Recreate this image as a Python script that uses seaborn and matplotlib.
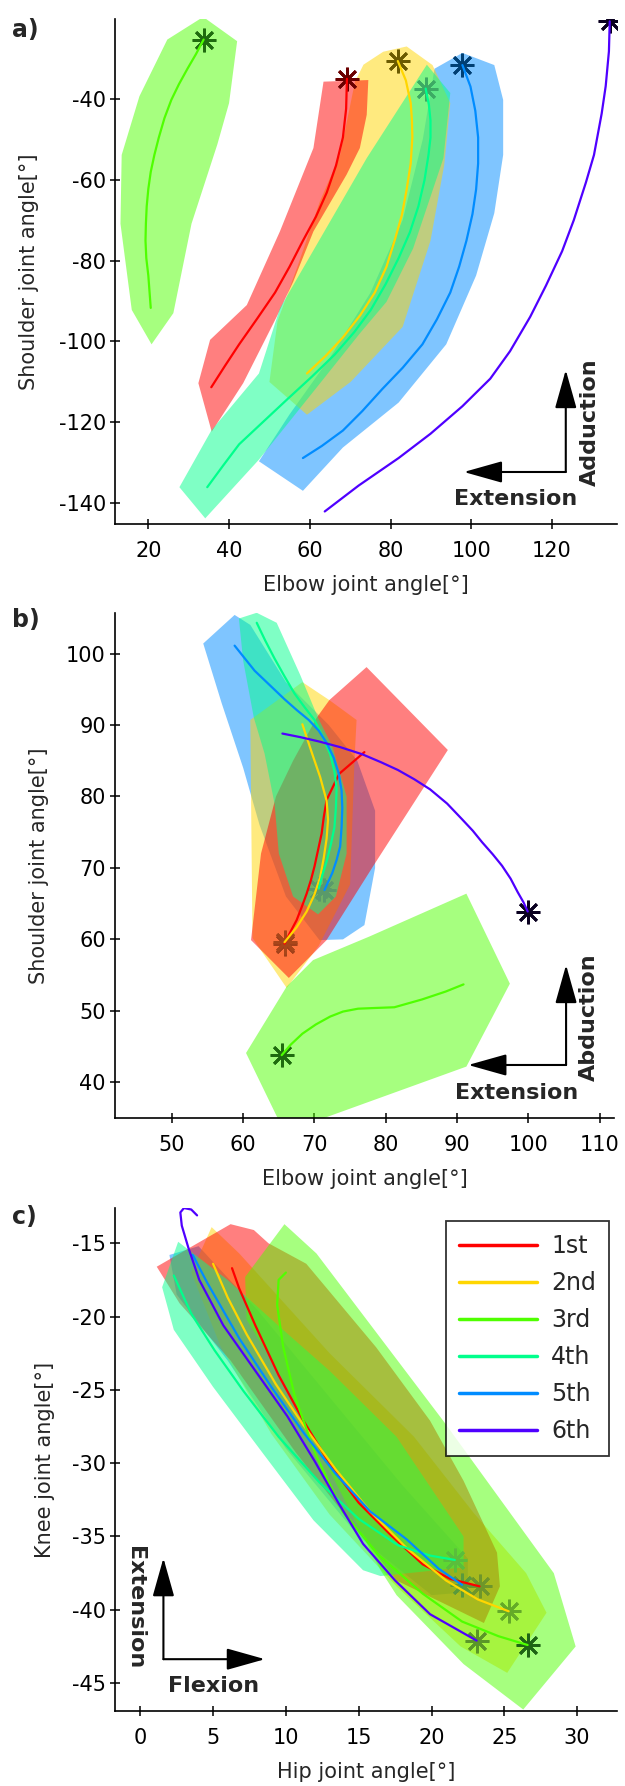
import matplotlib
matplotlib.use("Agg")
import matplotlib.pyplot as plt
import seaborn as sns
import numpy as np

# ---------------- data ----------------
labels = ["1st", "2nd", "3rd", "4th", "5th", "6th"]
colors = [(1, 0, 0), (1, 0.84, 0), (0.31, 1, 0), (0, 1, 0.55), (0, 0.55, 1), (0.31, 0, 1)]

# Panel a: elbow (x) vs shoulder (y); last point of each curve = star
a_x = [
    [35.6, 39.0, 42.5, 47.0, 51.4, 55.0, 58.3, 61.5, 64.2, 66.5, 68.2, 69.0, 69.2],
    [59.3, 64.0, 68.2, 72.5, 76.1, 79.0, 81.0, 82.8, 84.0, 85.0, 85.4, 85.3, 85.0, 83.8, 81.8],
    [20.6, 20.3, 20.0, 19.5, 19.3, 19.4, 19.6, 20.0, 20.6, 21.5, 22.6, 24.0, 25.7, 27.6, 29.7, 31.8, 33.7],
    [34.6, 38.5, 42.5, 48.5, 54.4, 60.5, 66.2, 71.0, 75.1, 78.8, 82.0, 84.8, 86.9, 88.4, 89.4, 89.9, 89.9, 89.5, 88.7],
    [58.3, 63.0, 68.2, 73.0, 78.0, 83.0, 87.9, 91.5, 94.8, 97.0, 98.8, 100.3, 101.2, 101.7, 101.7, 101.0, 99.8, 97.8],
    [63.7, 72.1, 82.0, 89.9, 97.8, 104.7, 109.6, 114.6, 118.5, 122.5, 125.4, 128.4, 130.4, 132.3, 133.3, 134.1, 134.3],
]
a_y = [
    [-111.3, -106.0, -100.7, -94.3, -87.9, -81.5, -75.1, -69.2, -63.2, -56.5, -49.6, -42.5, -35.1],
    [-107.9, -103.5, -99.0, -93.5, -87.9, -81.5, -75.1, -68.8, -62.4, -56.0, -49.6, -45.3, -41.1, -35.5, -30.7],
    [-91.7, -87.7, -83.7, -79.4, -75.1, -70.9, -66.6, -62.3, -58.1, -53.9, -49.6, -44.8, -40.3, -36.4, -32.6, -29.0, -25.4],
    [-136.0, -130.7, -125.4, -119.8, -114.3, -108.7, -103.2, -97.7, -92.2, -85.8, -79.4, -73.0, -66.6, -60.2, -53.9, -49.6, -45.4, -41.5, -37.5],
    [-128.8, -125.8, -122.0, -117.2, -111.7, -106.5, -100.7, -94.5, -87.9, -81.5, -75.1, -68.5, -62.4, -56.0, -49.6, -43.0, -37.0, -31.7],
    [-142.0, -135.6, -128.8, -122.8, -116.0, -109.2, -102.4, -93.9, -86.2, -77.7, -70.0, -60.7, -53.9, -43.7, -36.9, -28.3, -20.9],
]
a_hull = {
    4: [(90.9, -32.6), (97.8, -28.7), (105.7, -31.7), (107.9, -40.3), (107.9, -53.9), (105.7, -68.3),
        (101.2, -83.7), (93.8, -100.7), (82.0, -115.1), (68.2, -126.2), (58.3, -136.9), (47.4, -129.6),
        (55.0, -118.0), (65.0, -104.0), (75.0, -88.0), (83.0, -70.0), (88.0, -50.0)],
    1: [(71.2, -35.8), (73.3, -31.6), (78.2, -28.4), (84.0, -27.1), (90.4, -31.7), (94.8, -41.1),
        (93.3, -56.4), (89.9, -75.1), (83.0, -96.4), (70.1, -110.0), (59.3, -118.1), (50.0, -110.0),
        (52.0, -95.0), (56.8, -81.9), (62.5, -65.4), (67.5, -53.9)],
    0: [(63.4, -35.8), (74.5, -35.4), (74.1, -44.0), (72.4, -52.2), (69.1, -58.8), (60.9, -72.8),
        (55.9, -85.2), (51.8, -93.9), (43.5, -110.3), (35.7, -122.3), (32.4, -110.3), (35.3, -99.6),
        (44.4, -91.0), (52.6, -72.8), (60.9, -52.2)],
    3: [(89.0, -31.6), (94.8, -38.6), (93.1, -54.7), (85.6, -77.0), (79.0, -90.2), (72.4, -98.0),
        (62.0, -111.0), (47.4, -129.2), (34.1, -143.7), (27.7, -136.0), (35.6, -122.0), (47.4, -107.9),
        (52.6, -91.8), (74.1, -54.7)],
    2: [(24.7, -25.4), (33.6, -19.8), (42.0, -25.8), (40.0, -41.1), (37.1, -51.3), (30.7, -70.9),
        (26.2, -93.0), (20.8, -100.7), (15.9, -92.2), (13.1, -70.9), (13.4, -53.9), (17.8, -39.4)],
}
a_order = [4, 1, 0, 3, 2]
a_star = ['#6b0000', '#6b5a00', '#1f6b0f', '#3caa64', '#003f73', '#0a0020']

# Panel b: elbow (x) vs shoulder (y)
b_x = [
    [77.0, 73.5, 72.8, 71.7, 71.3, 71.0, 70.5, 70.0, 69.5, 68.9, 68.2, 67.5, 66.6, 65.8],
    [68.3, 69.0, 69.7, 70.8, 71.7, 71.9, 71.7, 71.3, 70.8, 70.0, 68.9, 67.5, 65.8],
    [90.9, 88.4, 85.1, 81.2, 78.5, 76.1, 74.0, 72.2, 70.2, 68.3, 66.7, 65.4],
    [61.9, 63.1, 64.4, 65.8, 67.2, 68.6, 70.0, 71.2, 72.2, 72.8, 73.1, 73.0, 72.8, 72.3, 71.7, 71.1, 70.6],
    [58.8, 61.6, 63.7, 65.8, 67.5, 69.2, 70.6, 71.7, 72.7, 73.4, 73.8, 73.9, 73.8, 73.6, 73.1, 72.5, 71.9, 71.4],
    [65.5, 68.0, 70.6, 73.6, 76.7, 79.3, 81.7, 84.0, 86.2, 88.6, 90.7, 92.2, 93.5, 95.0, 96.3, 97.5, 98.5, 99.3, 99.9],
]
b_y = [
    [86.2, 83.2, 81.8, 79.5, 77.1, 74.8, 72.5, 70.2, 68.3, 66.4, 64.5, 62.7, 61.0, 59.4],
    [90.1, 88.0, 85.9, 82.7, 79.4, 76.8, 74.1, 71.4, 68.7, 66.3, 63.9, 61.7, 59.6],
    [53.7, 52.7, 51.6, 50.5, 50.4, 50.3, 49.9, 49.2, 48.1, 46.8, 45.3, 43.8],
    [104.3, 101.8, 99.3, 96.8, 94.4, 92.5, 90.7, 88.3, 85.9, 83.5, 81.1, 78.4, 75.7, 73.3, 70.9, 69.0, 67.1],
    [101.1, 97.6, 95.6, 93.6, 92.1, 90.7, 89.2, 87.5, 85.4, 83.2, 80.8, 78.4, 75.7, 73.0, 71.1, 69.3, 68.0, 66.9],
    [88.8, 88.3, 87.7, 86.9, 85.9, 84.8, 83.7, 82.4, 81.0, 79.0, 76.8, 75.2, 73.6, 71.9, 70.3, 68.5, 66.6, 65.2, 63.9],
]
b_hull = {
    4: [(54.4, 101.4), (58.8, 105.4), (61.0, 104.0), (66.0, 96.0), (72.0, 90.0), (76.0, 85.0),
        (78.5, 78.0), (78.5, 70.0), (77.0, 62.0), (74.0, 60.0), (70.7, 59.9), (66.0, 66.0),
        (62.3, 76.0), (60.0, 84.0), (57.0, 93.0)],
    1: [(61.0, 90.7), (68.3, 96.0), (72.2, 93.4), (75.9, 90.7), (75.6, 84.8), (75.0, 67.7),
        (70.6, 59.1), (66.1, 53.2), (61.3, 60.2)],
    0: [(77.3, 98.1), (88.7, 86.5), (78.2, 70.2), (71.7, 59.9), (66.4, 54.6), (61.1, 59.9),
        (62.5, 72.0), (64.6, 80.0), (67.0, 85.0), (70.3, 91.0), (72.1, 93.5)],
    3: [(59.4, 104.9), (61.9, 105.7), (64.7, 104.3), (68.0, 97.0), (70.5, 91.0), (72.5, 87.0),
        (74.5, 80.0), (74.5, 72.0), (73.0, 66.0), (70.5, 63.5), (67.0, 66.0), (65.0, 72.0),
        (64.4, 79.0), (63.0, 86.0), (61.5, 91.0), (60.0, 99.0)],
    2: [(60.4, 44.1), (66.1, 53.4), (69.8, 57.1), (77.7, 60.4), (91.3, 66.4), (97.4, 53.8),
        (91.3, 42.2), (65.8, 33.0)],
}
b_order = [4, 1, 0, 3, 2]
b_star = ['#a0401a', '#a8461a', '#1f6b0f', '#5a9a6a', '#5a9a6a', '#0a0020']

# Panel c: hip (x) vs knee (y)
c_x = [
    [6.3, 6.8, 7.9, 9.5, 11.2, 13.1, 15.0, 17.2, 19.4, 21.3, 23.3],
    [5.0, 6.0, 7.3, 9.3, 11.2, 13.4, 15.8, 18.3, 21.0, 23.2, 25.3],
    [10.0, 9.5, 9.4, 9.8, 10.6, 12.0, 13.9, 16.4, 19.4, 22.1, 24.6, 26.6],
    [2.3, 3.5, 5.1, 7.1, 9.5, 12.3, 15.0, 17.7, 19.9, 21.6],
    [3.6, 4.6, 6.8, 9.0, 11.2, 13.4, 15.8, 18.3, 20.5, 22.1],
    [3.9, 3.5, 3.0, 2.75, 2.85, 3.3, 4.05, 5.7, 7.9, 10.1, 12.0, 13.6, 15.3, 17.5, 19.9, 23.1],
]
c_y = [
    [-16.7, -18.1, -20.6, -24.0, -27.1, -30.2, -32.7, -34.9, -36.9, -37.9, -38.4],
    [-16.4, -18.7, -21.2, -24.6, -27.4, -30.4, -33.3, -35.8, -38.0, -39.3, -40.1],
    [-17.0, -17.5, -19.2, -22.0, -25.4, -29.3, -33.3, -36.3, -38.9, -40.8, -41.8, -42.4],
    [-17.2, -19.8, -22.3, -25.1, -28.2, -31.3, -33.8, -35.6, -36.3, -36.6],
    [-15.8, -17.7, -21.5, -24.8, -27.9, -30.7, -33.3, -35.2, -37.2, -38.3],
    [-13.1, -12.7, -12.6, -12.9, -13.8, -15.3, -17.5, -20.6, -23.7, -26.8, -29.9, -32.7, -35.5, -38.0, -40.3, -42.1],
]
c_hull = {
    4: [(2.0, -15.8), (4.0, -15.2), (8.0, -19.5), (13.0, -25.5), (18.0, -31.5), (22.5, -36.5),
        (22.5, -38.8), (20.0, -39.0), (15.0, -35.0), (10.0, -29.0), (6.0, -23.0), (2.5, -18.5)],
    1: [(4.9, -13.9), (6.8, -15.7), (13.0, -22.5), (18.8, -28.2), (22.9, -33.4), (26.5, -37.5),
        (27.9, -40.2), (25.2, -44.3), (22.0, -42.5), (17.6, -38.4), (13.0, -33.5), (9.0, -28.0),
        (5.5, -22.0), (3.5, -17.0)],
    0: [(1.13, -16.6), (6.2, -13.7), (7.8, -14.1), (8.8, -15.0), (11.4, -16.4), (16.2, -22.1),
        (19.9, -27.1), (22.2, -31.2), (24.5, -36.1), (24.7, -38.4), (23.6, -40.9), (17.6, -38.0),
        (10.7, -29.3), (6.2, -23.0), (2.7, -19.1)],
    3: [(2.6, -14.9), (6.0, -17.5), (9.8, -20.9), (13.0, -23.7), (17.6, -28.2), (22.2, -35.0),
        (22.2, -37.1), (16.5, -37.7), (15.3, -37.3), (11.9, -33.9), (8.4, -29.3), (5.0, -24.8),
        (2.3, -20.9), (1.5, -18.0)],
    2: [(7.2, -17.3), (9.9, -13.7), (12.1, -15.7), (20.8, -27.1), (28.4, -37.5), (29.9, -42.5),
        (26.3, -46.8), (22.2, -43.7), (17.6, -39.0), (16.5, -37.3), (13.0, -30.5), (9.8, -24.3),
        (7.3, -20.2)],
}
c_order = [4, 1, 0, 3, 2]
c_star = ['#6e962a', '#64aa28', '#1e6414', '#5abe3c', '#5a9a3c', '#5a9628']

# ---------------- style ----------------
sns.set_theme(style="white")
plt.rcParams['font.family'] = ['DejaVu Sans']
plt.rcParams['axes.unicode_minus'] = False

fig = plt.figure(figsize=(6.25, 17.86), dpi=100)

panels = [
    dict(rect=[0.1837, 0.7066, 0.8035, 0.2828], xs=a_x, ys=a_y, hull=a_hull, order=a_order,
         star=a_star, xlim=(11.7, 136.1), ylim=(-145.1, -20.3),
         xticks=[20, 40, 60, 80, 100, 120], yticks=[-140, -120, -100, -80, -60, -40],
         xlabel="Elbow joint angle[°]", ylabel="Shoulder joint angle[°]", tag="a)", tagy=30, ylp=14),
    dict(rect=[0.1837, 0.3740, 0.7987, 0.2829], xs=b_x, ys=b_y, hull=b_hull, order=b_order,
         star=b_star, xlim=(42.0, 112.0), ylim=(35.0, 105.7),
         xticks=[50, 60, 70, 80, 90, 100, 110], yticks=[40, 50, 60, 70, 80, 90, 100],
         xlabel="Elbow joint angle[°]", ylabel="Shoulder joint angle[°]", tag="b)", tagy=620, ylp=12),
    dict(rect=[0.1837, 0.0420, 0.8035, 0.2816], xs=c_x, ys=c_y, hull=c_hull, order=c_order,
         star=c_star, xlim=(-1.75, 32.74), ylim=(-46.9, -12.6),
         xticks=[0, 5, 10, 15, 20, 25, 30], yticks=[-45, -40, -35, -30, -25, -20, -15],
         xlabel="Hip joint angle[°]", ylabel="Knee joint angle[°]", tag="c)", tagy=1217, ylp=12),
]

axes = []
for pi, p in enumerate(panels):
    ax = fig.add_axes(p['rect'])
    axes.append(ax)
    # hulls
    for k, idx in enumerate(p['order']):
        pts = np.array(p['hull'][idx])
        ax.fill(pts[:, 0], pts[:, 1], color=colors[idx], alpha=0.5, lw=0, zorder=1 + 0.01 * k)
    # stars
    for i in range(6):
        ax.plot(p['xs'][i][-1], p['ys'][i][-1], marker=(8, 2, 0), ms=17, mew=2.0,
                color=p['star'][i], linestyle='none', zorder=2)
    # curves
    for i in range(6):
        sns.lineplot(x=p['xs'][i], y=p['ys'][i], sort=False, estimator=None, color=colors[i],
                     lw=1.6, ax=ax, zorder=3, label=labels[i] if pi == 2 else None)
    ax.set_xlim(*p['xlim'])
    ax.set_ylim(*p['ylim'])
    ax.set_xticks(p['xticks'])
    ax.set_yticks(p['yticks'])
    ax.set_xlabel(p['xlabel'], fontsize=15, labelpad=10)
    ax.set_ylabel(p['ylabel'], fontsize=15, labelpad=p['ylp'])
    for s in ['top', 'right']:
        ax.spines[s].set_visible(False)
    for s in ['left', 'bottom']:
        ax.spines[s].set_color('black')
        ax.spines[s].set_linewidth(1.2)
    ax.tick_params(axis='both', direction='inout', length=7, width=1.1, colors='black',
                   labelsize=15, left=True, bottom=True)
    ax.tick_params(axis='x', pad=9)
    ax.tick_params(axis='y', pad=3)
    ax.set_facecolor('white')
    fig.text(12 / 625, 1 - p['tagy'] / 1786, p['tag'], fontsize=17, fontweight='bold',
             ha='left', va='center')

arr = dict(arrowstyle='-|>,head_length=1.6,head_width=0.45', mutation_scale=15, lw=1.5,
           color='black', shrinkA=0, shrinkB=0)

# Panel a arrows
ax = axes[0]
ax.annotate('', xy=(0.898, 0.305), xytext=(0.898, 0.103), xycoords='axes fraction', arrowprops=arr)
ax.annotate('', xy=(0.695, 0.103), xytext=(0.898, 0.103), xycoords='axes fraction', arrowprops=arr)
ax.text(0.799, 0.05, 'Extension', transform=ax.transAxes, fontsize=16, fontweight='bold',
        ha='center', va='center')
ax.text(0.946, 0.202, 'Adduction', transform=ax.transAxes, fontsize=16, fontweight='bold',
        ha='center', va='center', rotation=90)

# Panel b arrows
ax = axes[1]
ax.annotate('', xy=(0.904, 0.303), xytext=(0.904, 0.105), xycoords='axes fraction', arrowprops=arr)
ax.annotate('', xy=(0.708, 0.105), xytext=(0.904, 0.105), xycoords='axes fraction', arrowprops=arr)
ax.text(0.804, 0.049, 'Extension', transform=ax.transAxes, fontsize=16, fontweight='bold',
        ha='center', va='center')
ax.text(0.95, 0.2, 'Abduction', transform=ax.transAxes, fontsize=16, fontweight='bold',
        ha='center', va='center', rotation=90)

# Panel c arrows
ax = axes[2]
ax.annotate('', xy=(0.0968, 0.304), xytext=(0.0968, 0.103), xycoords='axes fraction', arrowprops=arr)
ax.annotate('', xy=(0.299, 0.103), xytext=(0.0968, 0.103), xycoords='axes fraction', arrowprops=arr)
ax.text(0.196, 0.05, 'Flexion', transform=ax.transAxes, fontsize=16, fontweight='bold',
        ha='center', va='center')
ax.text(0.041, 0.206, 'Extension', transform=ax.transAxes, fontsize=16, fontweight='bold',
        ha='center', va='center', rotation=-90)

leg = ax.legend(loc='upper right', bbox_to_anchor=(0.984, 0.974), borderaxespad=0,
                fontsize=17, frameon=True, fancybox=False, handlelength=3.3,
                labelspacing=0.55, borderpad=0.55, handletextpad=0.6)
leg.get_frame().set_edgecolor('black')
leg.get_frame().set_linewidth(1.3)
for line in leg.get_lines():
    line.set_linewidth(2.5)

fig.savefig('out.png', dpi=100, facecolor='white')
